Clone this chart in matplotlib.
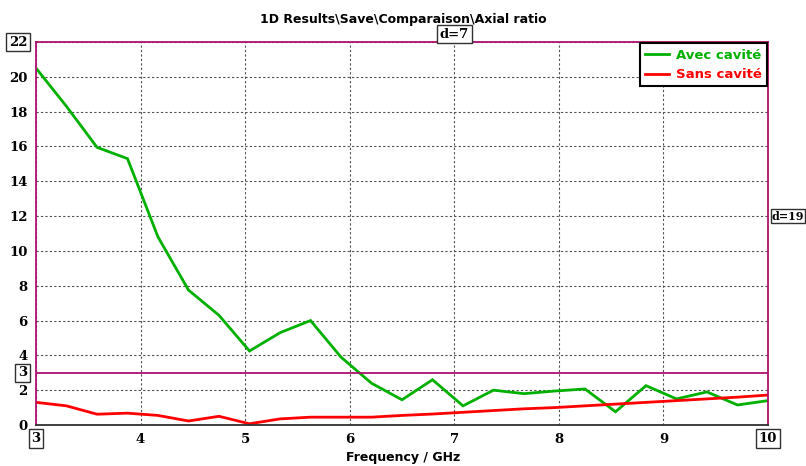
import matplotlib.pyplot as plt
import numpy as np

freq = np.linspace(3, 10, 25)
avec = [20.5, 18.3, 15.95, 15.3, 10.8, 7.75, 6.3, 4.25, 5.3, 6.0, 3.9, 2.4, 1.45,
        2.6, 1.1, 2.0, 1.8, 1.95, 2.07, 0.76, 2.26, 1.5, 1.9, 1.15, 1.4]
sans = [1.3, 1.1, 0.62, 0.68, 0.55, 0.23, 0.5, 0.07, 0.35, 0.45, 0.45, 0.45, 0.55,
        0.63, 0.73, 0.83, 0.93, 1.0, 1.1, 1.2, 1.3, 1.4, 1.5, 1.6, 1.72]
labels = ["Avec cavité", "Sans cavité"]
colors = ["#00b000", "#ff0000"]
xticks = [3, 4, 5, 6, 7, 8, 9, 10]
yticks = [0, 2, 4, 6, 8, 10, 12, 14, 16, 18, 20, 22]

mag = "#b0106e"
tfont = dict(family="DejaVu Serif", fontweight="bold", fontsize=9.5)

fig = plt.figure(figsize=(8.06, 4.66), dpi=100)
ax = fig.add_axes([36/806, 1-425/466, 732/806, 383/466])

for y, lab, c in zip([avec, sans], labels, colors):
    ax.plot(freq, y, color=c, lw=2, label=lab, solid_joinstyle="miter")

ax.axhline(3, color=mag, lw=1.3)
ax.set_xlim(3, 10)
ax.set_ylim(0, 22)
ax.set_xticks(xticks)
ax.set_yticks(yticks)
ax.grid(True, ls=(0, (2, 2)), color="#505050", lw=0.8)
ax.tick_params(length=0, pad=6)
ax.set_xticklabels(["" if t in (3, 10) else str(t) for t in xticks], **tfont)
ax.set_yticklabels(["" if t == 22 else str(t) for t in yticks], **tfont)

for s in ["left", "top", "right"]:
    ax.spines[s].set_color(mag)
    ax.spines[s].set_linewidth(1.3)
ax.spines["bottom"].set_color("#303030")
ax.spines["bottom"].set_linewidth(1.3)

box = dict(boxstyle="square,pad=0.2", fc="white", ec="#303030", lw=1)
ax.text(-0.012, 1.0, "22", transform=ax.transAxes, ha="right", va="center", bbox=box, **tfont)
ax.text(-0.012, 3, "3", transform=ax.get_yaxis_transform(), ha="right", va="center", bbox=box, **tfont)
ax.text(3, -0.035, "3", transform=ax.get_xaxis_transform(), ha="center", va="center", bbox=box, **tfont)
ax.text(10, -0.035, "10", transform=ax.get_xaxis_transform(), ha="center", va="center", bbox=box, **tfont)
ax.text(7, 1.003, "d=7", transform=ax.get_xaxis_transform(), ha="center", va="bottom", bbox=box, **tfont)
ax.text(1.005, 12, "d=19", transform=ax.get_yaxis_transform(), ha="left", va="center",
        bbox=dict(boxstyle="square,pad=0.1", fc="white", ec="#303030", lw=1),
        family="DejaVu Serif", fontweight="bold", fontsize=8)

fig.text(0.5, 0.958, "1D Results\\Save\\Comparaison\\Axial ratio", ha="center", va="center",
         fontsize=9, fontweight="bold", family="DejaVu Sans")
fig.text(0.5, 1 - 458/466, "Frequency / GHz", ha="center", va="center",
         fontsize=9, fontweight="bold", family="DejaVu Sans")

leg = ax.legend(loc="upper right", fancybox=False, framealpha=1, edgecolor="black",
                borderaxespad=0.1, handlelength=1.8, handletextpad=0.5,
                prop=dict(weight="bold", size=9.5))
leg.get_frame().set_linewidth(1.5)
for t, c in zip(leg.get_texts(), colors):
    t.set_color(c)

fig.savefig("out.png", dpi=100)
